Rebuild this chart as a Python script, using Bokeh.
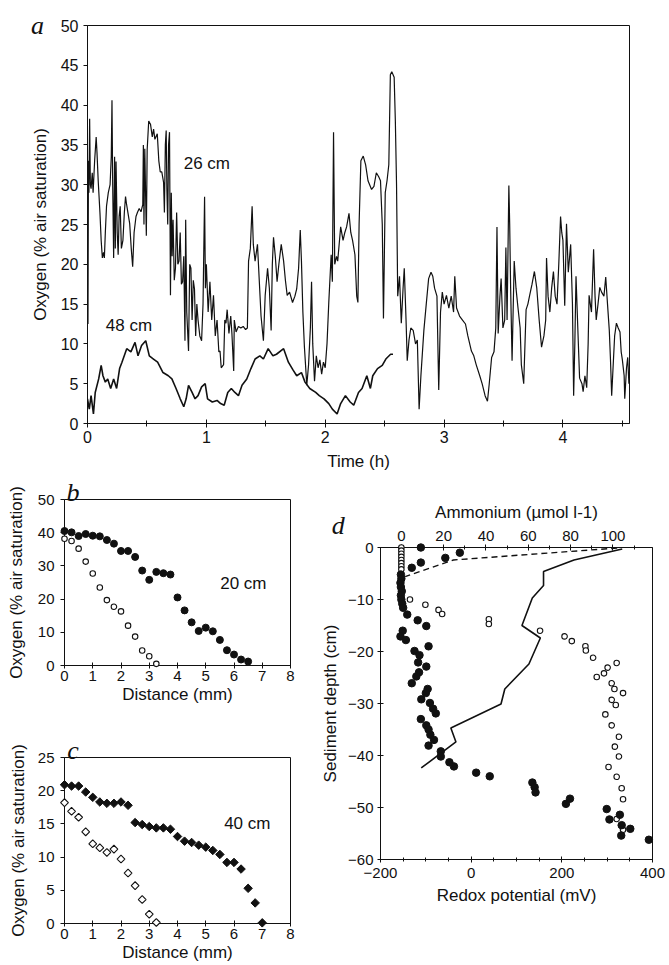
import numpy as np
from bokeh.plotting import figure
from bokeh.layouts import column, row
from bokeh.models import Range1d, LinearAxis, SingleIntervalTicker, Label
from bokeh.core.properties import value
from bokeh.embed import file_html
from bokeh.resources import INLINE

FONT = "Liberation Sans"
SERIF = "Liberation Serif"
INK = "#111111"

# ---------------- panel a: oxygen time series ----------------
time_26cm = [
    0.000, 0.004, 0.008, 0.012, 0.018, 0.024, 0.030, 0.040, 0.047, 0.060,
    0.073, 0.080, 0.090, 0.105, 0.115, 0.125, 0.135, 0.142, 0.150, 0.160,
    0.175, 0.190, 0.200, 0.206, 0.212, 0.220, 0.228, 0.234, 0.240, 0.250,
    0.258, 0.266, 0.275, 0.285, 0.298, 0.310, 0.320, 0.327, 0.340, 0.355,
    0.368, 0.380, 0.392, 0.408, 0.420, 0.435, 0.450, 0.465, 0.470, 0.475,
    0.482, 0.495, 0.502, 0.515, 0.530, 0.545, 0.556, 0.567, 0.587, 0.600,
    0.612, 0.625, 0.640, 0.647, 0.655, 0.662, 0.668, 0.675, 0.682, 0.690,
    0.698, 0.705, 0.712, 0.720, 0.730, 0.740, 0.750, 0.760, 0.770, 0.780,
    0.790, 0.800, 0.810, 0.820, 0.826, 0.835, 0.850, 0.860, 0.870, 0.880,
    0.890, 0.900, 0.910, 0.920, 0.930, 0.945, 0.960, 0.972, 0.985, 0.992,
    1.000, 1.015, 1.030, 1.045, 1.060, 1.075, 1.090, 1.105, 1.115, 1.125,
    1.145, 1.155, 1.165, 1.175, 1.190, 1.205, 1.215, 1.230, 1.235, 1.250,
    1.270, 1.290, 1.310, 1.330, 1.345, 1.355, 1.370, 1.385, 1.395, 1.410,
    1.430, 1.445, 1.460, 1.480, 1.495, 1.515, 1.530, 1.545, 1.555, 1.565,
    1.580, 1.595, 1.610, 1.630, 1.650, 1.665, 1.680, 1.700, 1.725, 1.745,
    1.760, 1.776, 1.790, 1.800, 1.812, 1.825, 1.845, 1.860, 1.875, 1.885,
    1.895, 1.910, 1.925, 1.940, 1.955, 1.970, 1.985, 2.000, 2.015, 2.030,
    2.050, 2.060, 2.070, 2.080, 2.095, 2.105, 2.130, 2.150, 2.165, 2.180,
    2.200, 2.215, 2.230, 2.250, 2.265, 2.275, 2.285, 2.300, 2.320, 2.340,
    2.360, 2.390, 2.410, 2.430, 2.450, 2.465, 2.480, 2.490, 2.505, 2.520,
    2.535, 2.548, 2.560, 2.580, 2.590, 2.600, 2.610, 2.625, 2.640, 2.655,
    2.665, 2.680, 2.690, 2.705, 2.720, 2.740, 2.760, 2.775, 2.790, 2.805,
    2.830, 2.850, 2.870, 2.890, 2.905, 2.920, 2.940, 2.955, 2.970, 2.985,
    3.000, 3.020, 3.040, 3.060, 3.080, 3.090, 3.105, 3.130, 3.155, 3.180,
    3.200, 3.230, 3.250, 3.270, 3.300, 3.320, 3.345, 3.365, 3.380, 3.400,
    3.420, 3.435, 3.445, 3.455, 3.470, 3.480, 3.495, 3.510, 3.520, 3.530,
    3.545, 3.552, 3.560, 3.572, 3.590, 3.605, 3.620, 3.640, 3.650, 3.670,
    3.690, 3.705, 3.720, 3.740, 3.760, 3.780, 3.800, 3.820, 3.840, 3.855,
    3.862, 3.875, 3.890, 3.905, 3.920, 3.935, 3.950, 3.965, 3.980, 3.990,
    4.000, 4.015, 4.030, 4.045, 4.065, 4.080, 4.090, 4.100, 4.110, 4.125,
    4.140, 4.160, 4.170, 4.185, 4.200, 4.212, 4.220, 4.240, 4.258, 4.270,
    4.280, 4.295, 4.310, 4.325, 4.345, 4.360, 4.375, 4.390, 4.400, 4.410,
    4.425, 4.435, 4.450, 4.465, 4.480, 4.490, 4.500, 4.515, 4.520, 4.535,
    4.545, 4.555,
]
oxygen_26cm = [
    30, 12.5, 33, 29, 38.3, 30, 29.5, 31.5, 29, 33,
    36, 34, 30.5, 26.4, 23, 20.8, 21.5, 20.8, 24, 27.3,
    29, 30, 33.5, 40.6, 30, 20.8, 33.5, 22, 32.9, 24,
    21.2, 26, 27.3, 22, 23, 26.5, 28.5, 27.7, 26.5, 25.1,
    22, 19.7, 24, 26, 26.5, 27, 26.6, 27.5, 35, 25,
    34.5, 23.6, 34.4, 38, 37.6, 36, 37, 35.7, 36.4, 33,
    31.6, 31.6, 30.3, 26.5, 35, 36.8, 29.4, 25, 35, 36.6,
    16.1, 29, 21, 25.6, 18, 19.5, 26.5, 20, 20.4, 24,
    17.5, 17.8, 21, 10.4, 25.6, 14, 9.1, 20, 19.5, 13,
    18, 16.9, 11, 15, 13, 11, 10.4, 15, 28.5, 17,
    20, 14, 17.8, 13, 16.1, 11, 13, 9, 9.1, 7,
    7.4, 13, 12.6, 14.3, 11.3, 13.5, 11.3, 6.6, 13, 11.5,
    12.2, 12, 12.2, 11.8, 12, 20.4, 22, 27.3, 22.5, 20.4,
    22.5, 18, 13.5, 10.4, 16.1, 19.5, 17, 11.7, 20, 23.4,
    21, 17.8, 20, 22.5, 20.4, 18, 16.1, 16.5, 15.2, 16,
    16.9, 19.5, 24.3, 20.4, 14, 9.6, 4.8, 7.4, 12, 17.8,
    10, 5.3, 8.5, 7, 8, 6.2, 7.7, 7, 10, 15.2,
    21.2, 17.8, 36.6, 20, 21, 20.4, 24.7, 23, 24, 24.7,
    26.4, 24, 23, 21.2, 16, 15.2, 25, 33, 33.6, 32.5,
    30.5, 29.4, 29.8, 31.5, 31, 30.5, 25, 13.2, 29, 30.5,
    32.5, 43.8, 44.2, 43.5, 38, 30, 16, 18.5, 12.6, 17,
    19.5, 13, 7.9, 10.5, 12, 11.7, 10, 10.5, 1.8, 6,
    11.7, 15, 18.2, 19, 18.5, 17, 16, 4.2, 14, 16.5,
    15, 16.1, 14.5, 16, 14, 18.5, 14.5, 13.5, 13, 12.5,
    11, 9.1, 8.5, 7.4, 6, 5, 3.5, 2.8, 5, 8.3,
    9, 12, 24.7, 11.3, 16, 18.2, 12, 13, 22.1, 13,
    29.9, 25, 17, 7.9, 20.4, 17, 14.8, 12, 7.4, 5,
    14.3, 15, 16.1, 17.5, 19.1, 17, 13, 9.6, 11, 13,
    20.8, 16, 14, 17, 19.1, 16, 15, 20, 26, 24,
    23, 14.8, 25.1, 19, 22.5, 15, 3.5, 10, 18.5, 12,
    5.7, 5, 4, 6, 4.5, 10, 16.1, 14, 21.9, 16,
    13, 15, 17.1, 16.5, 16, 18.4, 15, 11.7, 8, 3.5,
    8, 11, 12.6, 12, 11.5, 9, 8, 6, 3.1, 7,
    8.3, 5,
]
time_48cm = [
    0.000, 0.015, 0.030, 0.050, 0.065, 0.094, 0.115, 0.130, 0.150, 0.170,
    0.195, 0.220, 0.245, 0.270, 0.290, 0.330, 0.365, 0.400, 0.425, 0.455,
    0.490, 0.520, 0.555, 0.590, 0.635, 0.680, 0.710, 0.745, 0.780, 0.810,
    0.830, 0.850, 0.880, 0.905, 0.930, 0.960, 0.990, 1.010, 1.050, 1.090,
    1.120, 1.150, 1.180, 1.210, 1.240, 1.270, 1.300, 1.340, 1.375, 1.410,
    1.450, 1.480, 1.520, 1.560, 1.590, 1.650, 1.690, 1.730, 1.760, 1.800,
    1.830, 1.870, 1.920, 1.950, 1.990, 2.030, 2.060, 2.100, 2.130, 2.170,
    2.210, 2.240, 2.280, 2.310, 2.350, 2.380, 2.400, 2.440, 2.480, 2.510,
    2.550, 2.570,
]
oxygen_48cm = [
    3.1, 1.8, 3.5, 1.2, 3.9, 5.6, 7.3, 6.0, 5.2, 5.6,
    4.4, 5.6, 4.4, 6.9, 7.7, 9.4, 9.0, 10.2, 8.5, 9.8,
    10.4, 8.5, 8.1, 7.7, 6.4, 6.0, 5.6, 4.4, 3.1, 2.1,
    3.1, 4.8, 3.9, 3.1, 3.5, 4.6, 5.0, 3.1, 2.7, 2.9,
    2.5, 2.3, 3.9, 4.4, 3.9, 3.5, 4.8, 5.6, 6.9, 8.1,
    8.5, 8.1, 9.4, 8.5, 8.7, 9.4, 7.7, 6.7, 6.0, 6.4,
    5.2, 4.4, 3.9, 3.5, 3.1, 2.5, 1.8, 1.2, 2.5, 3.5,
    2.7, 2.3, 3.9, 4.4, 6.0, 4.4, 6.0, 6.9, 7.3, 8.1,
    8.7, 8.7,
]

# ---------------- panel b: 20 cm profiles ----------------
dist_b_filled = [0, 0.25, 0.5, 0.75, 1.0, 1.25, 1.5, 1.75, 2.0, 2.25, 2.5, 2.75, 3.0, 3.25,
                 3.5, 3.75, 4.0, 4.25, 4.5, 4.75, 5.0, 5.25, 5.5, 5.75, 6.0, 6.25, 6.5]
oxy_b_filled = [40.5, 40.1, 39.0, 39.6, 39.1, 38.9, 37.8, 36.7, 34.5, 34.5, 32.7, 28.6, 25.8, 28.2,
                27.8, 27.4, 20.5, 16.6, 13.0, 10.4, 11.4, 10.3, 7.7, 4.6, 3.3, 1.8, 1.2]
dist_b_open = [0, 0.25, 0.5, 0.75, 1.0, 1.25, 1.5, 1.75, 2.0, 2.25, 2.5, 2.75, 3.0, 3.25]
oxy_b_open = [38.2, 37.5, 35.2, 31.3, 27.7, 23.5, 19.7, 17.7, 16.3, 12.0, 8.7, 4.5, 2.8, 0.5]

# ---------------- panel c: 40 cm profiles ----------------
dist_c_filled = [0, 0.25, 0.5, 0.75, 1.0, 1.25, 1.5, 1.75, 2.0, 2.25, 2.5, 2.75, 3.0, 3.25, 3.5,
                 3.75, 4.0, 4.25, 4.5, 4.75, 5.0, 5.25, 5.5, 5.75, 6.0, 6.25, 6.5, 6.75, 7.0]
oxy_c_filled = [20.9, 20.7, 20.7, 19.8, 19.0, 18.3, 18.1, 18.1, 18.3, 17.8, 15.2, 14.9, 14.6, 14.4, 14.4,
                14.2, 13.1, 12.4, 12.2, 11.8, 11.5, 11.0, 10.4, 9.2, 9.2, 8.2, 5.3, 3.1, 0.1]
dist_c_open = [0, 0.25, 0.5, 0.75, 1.0, 1.25, 1.5, 1.75, 2.0, 2.25, 2.5, 2.75, 3.0, 3.25]
oxy_c_open = [18.2, 16.9, 16.0, 13.8, 12.0, 11.4, 10.7, 11.2, 9.7, 7.6, 5.7, 3.6, 1.4, 0.15]

# ---------------- panel d: sediment profiles ----------------
redox_filled_mv = [-111, -25, -57, -111, -131, -155, -154, -156, -155, -153, -155, -154, -152, -150,
                   -141, -118, -99, -151, -156, -144, -94, -125, -114, -117, -99, -115, -121, -131,
                   -96, -100, -110, -91, -84, -78, -111, -99, -94, -90, -82, -94, -67, -67, -48, -38,
                   11, 41, 135, 140, 142, 209, 218, 299, 305, 328, 332, 331, 351, 392]
redox_filled_depth = [0, -1.0, -2.0, -2.9, -3.9, -5.2, -6.0, -6.8, -7.6, -8.4, -9.2, -10.0, -10.8, -11.6,
                      -12.9, -14.0, -15.1, -16.0, -17.1, -17.8, -19.0, -19.9, -20.7, -22.1, -22.9, -24.0, -24.8, -26.1,
                      -27.2, -28.0, -29.2, -29.9, -31.0, -31.9, -33.0, -34.2, -35.0, -36.0, -37.0, -38.1, -39.2, -40.2, -41.3, -42.1,
                      -43.3, -44.0, -45.2, -46.1, -47.1, -49.3, -48.3, -50.3, -52.3, -51.4, -53.4, -55.4, -54.1, -56.2]
redox_open_mv = [-154, -154, -154, -154, -154, -154, -154, -154,
                 -135, -101, -72, -64, 39, 39, 152, 206, 222, 252,
                 253, 269, 321, 301, 293, 277, 310, 316, 335, 310,
                 319, 296, 310, 326, 317, 326, 303, 321, 332, 335, 321, 335]
redox_open_depth = [0, -0.6, -1.2, -1.8, -2.4, -3.0, -3.6, -4.2,
                    -10.0, -11.0, -12.0, -12.8, -13.8, -14.7, -16.0, -17.1, -18.0, -19.0,
                    -19.8, -21.2, -22.2, -23.1, -24.2, -24.9, -26.1, -27.2, -28.0, -29.3,
                    -30.3, -32.1, -34.2, -36.4, -38.3, -40.2, -42.2, -44.1, -46.3, -48.4, -52.2, -54.3]
ammonium_solid = [104.4, 81.6, 67.2, 67.2, 61.9, 57.0, 65.7, 60.3, 48.9, 47.1, 23.4, 25.8, 9.4]
ammonium_solid_depth = [-0.3, -2.4, -4.6, -7.3, -9.7, -15.0, -17.4, -22.4, -27.2, -30.1, -34.7, -37.4, -42.4]
ammonium_dashed = [102.0, 24.6, 1.8]
ammonium_dashed_depth = [-0.1, -2.4, -5.6]


def style_fig(p):
    p.xgrid.visible = False
    p.ygrid.visible = False
    p.outline_line_color = INK
    p.outline_line_width = 1
    p.background_fill_color = "white"
    p.border_fill_color = "white"


def style_axis(ax, tick_px, label_px):
    ax.axis_line_color = INK
    ax.axis_line_width = 1
    ax.major_tick_line_color = INK
    ax.minor_tick_line_color = INK
    ax.major_label_text_font = FONT
    ax.major_label_text_font_size = f"{tick_px}px"
    ax.major_label_text_color = INK
    ax.axis_label_text_font = FONT
    ax.axis_label_text_font_size = f"{label_px}px"
    ax.axis_label_text_font_style = "normal"
    ax.axis_label_text_color = INK


def text_label(p, x, y, txt, size):
    p.add_layout(Label(x=x, y=y, text=txt, text_font=FONT,
                       text_font_size=f"{size}px", text_color=INK,
                       text_align="center", text_baseline="alphabetic"))


def panel_letter(p, x, y, txt):
    # drawn as an unclipped text glyph so it can sit outside the frame
    p.text(x=[x], y=[y], text=[txt], text_font=value(SERIF), text_font_style="italic",
           text_font_size="26px", text_color=INK, text_align="center",
           text_baseline="alphabetic", level="overlay")


# ---------------- figure a ----------------
pa = figure(frame_width=542, frame_height=398, min_border_left=87, min_border_right=38,
            min_border_top=25, min_border_bottom=50,
            x_range=Range1d(0, 4.56), y_range=Range1d(0, 50),
            output_backend="svg", toolbar_location=None)
style_fig(pa)
pa.xaxis.ticker = SingleIntervalTicker(interval=1, num_minor_ticks=2)
pa.yaxis.ticker = SingleIntervalTicker(interval=5, num_minor_ticks=0)
pa.xaxis.axis_label = "Time (h)"
pa.yaxis.axis_label = "Oxygen (% air saturation)"
for ax in pa.axis:
    style_axis(ax, 16, 17)
pa.xaxis.major_tick_in = 4
pa.xaxis.major_tick_out = 4
pa.xaxis.minor_tick_in = 3
pa.xaxis.minor_tick_out = 3
pa.xaxis.major_label_standoff = 3
pa.xaxis.axis_label_standoff = 6
pa.yaxis.major_tick_in = 0
pa.yaxis.major_tick_out = 4
pa.yaxis.major_label_standoff = 5
pa.yaxis.axis_label_standoff = 8
pa.line(time_26cm, oxygen_26cm, line_color=INK, line_width=1.2)
pa.line(time_48cm, oxygen_48cm, line_color=INK, line_width=1.6)
text_label(pa, 1.004, 32.7, "26 cm", 17)
text_label(pa, 0.349, 12.3, "48 cm", 17)
panel_letter(pa, -0.42, 50.0, "a")

# ---------------- figure b ----------------
pb = figure(frame_width=226, frame_height=166, min_border_left=64, min_border_right=28,
            min_border_top=26, min_border_bottom=38,
            x_range=Range1d(0, 8), y_range=Range1d(0, 50),
            output_backend="svg", toolbar_location=None)
style_fig(pb)
pb.xaxis.ticker = SingleIntervalTicker(interval=1, num_minor_ticks=0)
pb.yaxis.ticker = SingleIntervalTicker(interval=10, num_minor_ticks=0)
pb.xaxis.axis_label = "Distance (mm)"
pb.yaxis.axis_label = "Oxygen (% air saturation)"
for ax in pb.axis:
    style_axis(ax, 15, 17)
pb.xaxis.major_tick_in = 3
pb.xaxis.major_tick_out = 3
pb.xaxis.major_label_standoff = 2
pb.xaxis.axis_label_standoff = 1
pb.yaxis.major_tick_in = 0
pb.yaxis.major_tick_out = 4
pb.yaxis.major_label_standoff = 6
pb.yaxis.axis_label_standoff = 9
pb.scatter(dist_b_open, oxy_b_open, marker="circle", size=5.5, fill_color="white",
           line_color=INK, line_width=1.1, level="overlay")
pb.scatter(dist_b_filled, oxy_b_filled, marker="circle", size=7, fill_color=INK,
           line_color=INK, level="overlay")
text_label(pb, 6.33, 24.7, "20 cm", 17)
panel_letter(pb, 0.30, 52.2, "b")

# ---------------- figure c ----------------
pc = figure(frame_width=226, frame_height=166, min_border_left=64, min_border_right=28,
            min_border_top=51, min_border_bottom=41,
            x_range=Range1d(0, 8), y_range=Range1d(0, 25),
            output_backend="svg", toolbar_location=None)
style_fig(pc)
pc.xaxis.ticker = SingleIntervalTicker(interval=1, num_minor_ticks=0)
pc.yaxis.ticker = SingleIntervalTicker(interval=5, num_minor_ticks=0)
pc.xaxis.axis_label = "Distance (mm)"
pc.yaxis.axis_label = "Oxygen (% air saturation)"
for ax in pc.axis:
    style_axis(ax, 15, 17)
pc.xaxis.major_tick_in = 3
pc.xaxis.major_tick_out = 3
pc.xaxis.major_label_standoff = 2
pc.xaxis.axis_label_standoff = 1
pc.yaxis.major_tick_in = 0
pc.yaxis.major_tick_out = 4
pc.yaxis.major_label_standoff = 6
pc.yaxis.axis_label_standoff = 7
pc.scatter(dist_c_open, oxy_c_open, marker="square", angle=np.pi / 4, size=5.5,
           fill_color="white", line_color=INK, line_width=1.1, level="overlay")
pc.scatter(dist_c_filled, oxy_c_filled, marker="square", angle=np.pi / 4, size=6,
           fill_color=INK, line_color=INK, level="overlay")
text_label(pc, 6.47, 15.0, "40 cm", 17)
panel_letter(pc, 0.30, 26.05, "c")

# ---------------- figure d ----------------
pd_ = figure(frame_width=272, frame_height=312, min_border_left=60, min_border_right=16,
             min_border_top=74, min_border_bottom=55,
             x_range=Range1d(-200, 400), y_range=Range1d(-60, 0),
             output_backend="svg", toolbar_location=None)
pd_.extra_x_ranges = {"amm": Range1d(-9.85, 118.7)}
style_fig(pd_)
pd_.xaxis.ticker = SingleIntervalTicker(interval=200, num_minor_ticks=4)
pd_.yaxis.ticker = SingleIntervalTicker(interval=10, num_minor_ticks=0)
pd_.xaxis.axis_label = "Redox potential (mV)"
pd_.yaxis.axis_label = "Sediment depth (cm)"
top = LinearAxis(x_range_name="amm", ticker=SingleIntervalTicker(interval=20, num_minor_ticks=2),
                 axis_label="Ammonium (\u00b5mol l-1)")
pd_.add_layout(top, "above")
for ax in pd_.axis:
    style_axis(ax, 15, 17)
    ax.major_tick_in = 3
    ax.major_tick_out = 3
    ax.minor_tick_in = 2
    ax.minor_tick_out = 2
pd_.xaxis[0].major_label_standoff = 4
pd_.xaxis[0].axis_label_standoff = 10
top.major_label_standoff = 4
top.axis_label_standoff = 6
pd_.yaxis.major_label_standoff = 4
pd_.yaxis.axis_label_standoff = 5
pd_.line(ammonium_solid, ammonium_solid_depth, x_range_name="amm", line_color=INK, line_width=1.6)
pd_.line(ammonium_dashed, ammonium_dashed_depth, x_range_name="amm", line_color=INK,
         line_width=1.4, line_dash="6 4")
pd_.scatter(redox_open_mv, redox_open_depth, marker="circle", size=5.5, fill_color="white",
            line_color=INK, line_width=1.1, level="overlay")
pd_.scatter(redox_filled_mv, redox_filled_depth, marker="circle", size=7.5, fill_color=INK,
            line_color=INK, level="overlay")
panel_letter(pd_, -293, 4.2, "d")

layout = column(pa, row(column(pb, pc), pd_))
open("out.html", "w").write(file_html(layout, INLINE))
